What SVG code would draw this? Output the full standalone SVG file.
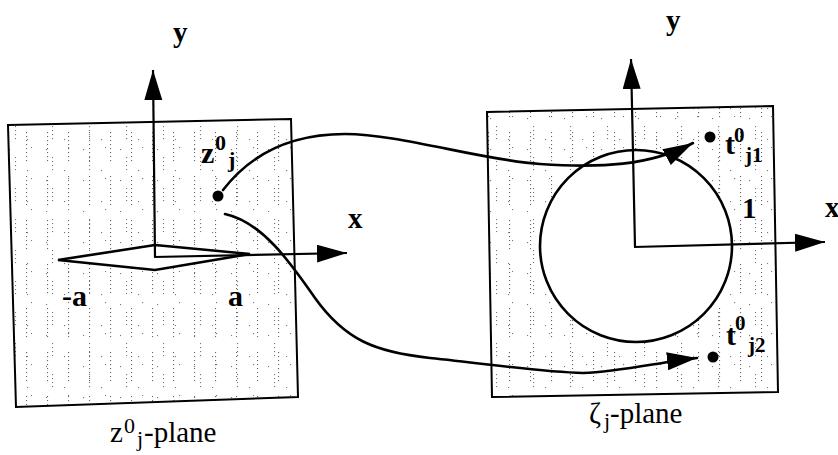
<svg xmlns="http://www.w3.org/2000/svg" width="838" height="455" viewBox="0 0 838 455">
  <style>
    .frame { stroke: #000; stroke-width: 2; stroke-linejoin: miter; }
    .axis { fill: none; stroke: #000; stroke-width: 2.2; }
    .curve { fill: none; stroke: #000; stroke-width: 2.6; stroke-linecap: round; }
    .shape { fill: #fff; stroke: #000; stroke-width: 2.6; }
    .lbl { font-family: "Liberation Serif", "Times New Roman", serif; font-weight: bold; fill: #000; }
    .cap { font-family: "Liberation Serif", "Times New Roman", serif; fill: #000; }
    .pt { fill: #000; }
  </style>
  <defs>
    <marker id="ah" markerUnits="userSpaceOnUse" markerWidth="32" markerHeight="20" refX="30" refY="9" orient="auto" viewBox="0 0 32 20">
      <path d="M0,0 L30,9 L0,18 Z" fill="#000"/>
    </marker>
    <pattern id="dotsA" patternUnits="userSpaceOnUse" width="21" height="44">
      <rect x="5" y="0" width="1.1" height="1.1" fill="#666"/>
      <rect x="5" y="4" width="1.1" height="1.1" fill="#666"/>
      <rect x="5" y="8" width="1.1" height="1.1" fill="#666"/>
      <rect x="5" y="12" width="1.1" height="1.1" fill="#666"/>
      <rect x="5" y="16" width="1.1" height="1.1" fill="#666"/>
      <rect x="5" y="20" width="1.1" height="1.1" fill="#666"/>
      <rect x="5" y="24" width="1.1" height="1.1" fill="#666"/>
      <rect x="5" y="28" width="1.1" height="1.1" fill="#666"/>
    </pattern>
    <pattern id="dotsB" patternUnits="userSpaceOnUse" width="37" height="31">
      <rect x="15" y="2" width="1.1" height="1.1" fill="#777"/>
      <rect x="15" y="6" width="1.1" height="1.1" fill="#777"/>
      <rect x="15" y="10" width="1.1" height="1.1" fill="#777"/>
      <rect x="15" y="14" width="1.1" height="1.1" fill="#777"/>
      <rect x="27" y="15" width="1.1" height="1.1" fill="#777"/>
      <rect x="31" y="23" width="1.1" height="1.1" fill="#777"/>
      <rect x="9" y="25" width="1.1" height="1.1" fill="#777"/>
    </pattern>
  </defs>

  <rect width="838" height="455" fill="#fff"/>

  <g id="z-plane">
    <polygon points="8,125 291,119 298,397 16,407" fill="#fff"/>
    <polygon points="8,125 291,119 298,397 16,407" fill="url(#dotsA)"/>
    <polygon class="frame" points="8,125 291,119 298,397 16,407" fill="url(#dotsB)"/>
    <polygon class="shape" points="58,260 155,245 250,254 155,270"/>
    <path class="axis" d="M155,257 L153,70" marker-end="url(#ah)"/>
    <path class="axis" d="M154,257 L347,253" marker-end="url(#ah)"/>
    <text class="lbl" x="173" y="42" font-size="29">y</text>
    <text class="lbl" x="348" y="228" font-size="29">x</text>
    <text class="lbl" x="62" y="306" font-size="30">-a</text>
    <text class="lbl" x="228" y="306" font-size="30">a</text>
    <text class="cap" font-size="29"><tspan x="110" y="442">z</tspan><tspan x="124" y="433" font-size="22">0</tspan><tspan x="137" y="446" font-size="22">j</tspan><tspan x="144" y="442">-plane</tspan></text>
  </g>

  <g id="zeta-plane">
    <polygon points="487,112 773,106 778,392 492,397" fill="#fff"/>
    <polygon points="487,112 773,106 778,392 492,397" fill="url(#dotsA)"/>
    <polygon class="frame" points="487,112 773,106 778,392 492,397" fill="url(#dotsB)"/>
    <circle class="shape" cx="636" cy="246" r="96"/>
    <path class="axis" d="M635,247 L631,59" marker-end="url(#ah)"/>
    <path class="axis" d="M634,247 L825,242" marker-end="url(#ah)"/>
    <text class="lbl" x="666" y="30" font-size="29">y</text>
    <text class="lbl" x="825" y="217" font-size="29">x</text>
    <text class="lbl" x="742" y="218" font-size="29">1</text>
    <text class="cap" font-size="29"><tspan x="589" y="423">ζ</tspan><tspan x="604" y="428" font-size="22">j</tspan><tspan x="610" y="423">-plane</tspan></text>
  </g>

  <g id="point-z0j">
    <circle class="pt" cx="218" cy="196" r="5.5"/>
    <text class="lbl" font-size="30"><tspan x="201" y="163">z</tspan><tspan x="215" y="150" font-size="22">0</tspan><tspan x="228" y="167" font-size="22">j</tspan></text>
  </g>

  <g id="point-t0j1">
    <circle class="pt" cx="710" cy="137" r="5.5"/>
    <text class="lbl" font-size="30"><tspan x="725" y="154">t</tspan><tspan x="734" y="142" font-size="21">0</tspan><tspan x="745" y="162" font-size="21">j1</tspan></text>
  </g>

  <g id="point-t0j2">
    <circle class="pt" cx="713" cy="357" r="5.5"/>
    <text class="lbl" font-size="30"><tspan x="726" y="345">t</tspan><tspan x="735" y="330" font-size="21">0</tspan><tspan x="748" y="352" font-size="21">j2</tspan></text>
  </g>

  <g id="connectors">
    <path class="curve" d="M223,190 C250,155 290,134 345,134 C400,134 480,160 540,164 C600,168 650,166 693,143" marker-end="url(#ah)"/>
    <path class="curve" d="M225,214 C262,222 290,262 315,298 C345,340 375,352 430,358 C490,364 540,372 583,373 C620,372 660,362 697,358" marker-end="url(#ah)"/>
  </g>
</svg>
